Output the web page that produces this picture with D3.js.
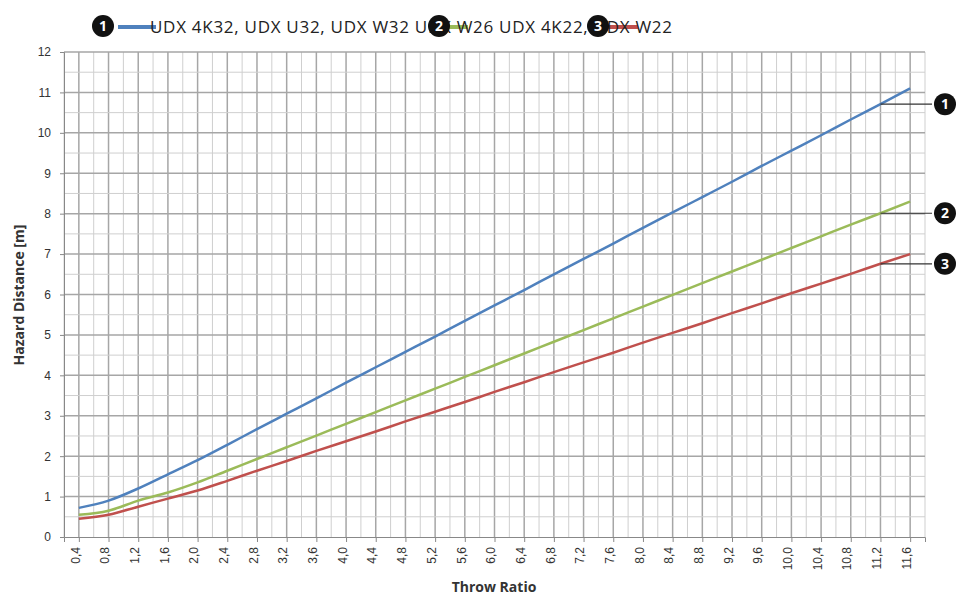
<!DOCTYPE html><html><head><meta charset="utf-8"><script src="https://cdn.jsdelivr.net/npm/d3@7"></script>
<style>body{margin:0;background:#fff;font-family:"Open Sans",sans-serif}</style></head><body><svg id="c" width="965" height="598"></svg>
<script>
const xs=[0.4,0.8,1.2,1.6,2.0,2.4,2.8,3.2,3.6,4.0,4.4,4.8,5.2,5.6,6.0,6.4,6.8,7.2,7.6,8.0,8.4,8.8,9.2,9.6,10.0,10.4,10.8,11.2,11.6];
const blue=[0.72,0.9,1.2,1.55,1.9,2.28,2.67,3.05,3.43,3.82,4.2,4.58,4.96,5.35,5.73,6.11,6.5,6.88,7.26,7.65,8.03,8.41,8.79,9.18,9.56,9.94,10.33,10.71,11.1];
const green=[0.55,0.65,0.9,1.1,1.35,1.64,1.93,2.22,2.51,2.8,3.09,3.38,3.67,3.96,4.25,4.54,4.83,5.12,5.41,5.7,5.99,6.28,6.57,6.86,7.15,7.44,7.73,8.01,8.3];
const red=[0.45,0.55,0.75,0.95,1.15,1.39,1.64,1.88,2.13,2.37,2.61,2.86,3.1,3.34,3.59,3.83,4.08,4.32,4.56,4.81,5.05,5.29,5.54,5.78,6.03,6.27,6.51,6.76,7.0];
const yTicks=[0,1,2,3,4,5,6,7,8,9,10,11,12];
const series=[{n:"1",v:blue,c:"#4f81bd"},{n:"2",v:green,c:"#9bbb59"},{n:"3",v:red,c:"#c0504d"}];
const legendText="UDX 4K32, UDX U32, UDX W32 UDX W26 UDX 4K22, UDX W22";
const svg=d3.select("#c");
const x=d3.scaleLinear().domain([0.2,11.8]).range([64,925]);
const y=d3.scaleLinear().domain([0,12]).range([537,52]);
const g=svg.append("g");
const vx=d3.range(2,119,2).map(d=>d/10);
g.selectAll(".vg").data(vx).join("line").attr("x1",d=>x(d)).attr("x2",d=>x(d)).attr("y1",y(12)).attr("y2",y(0))
 .attr("stroke",(d,i)=>i%2===1?"#a6a6a6":"#cfcfcf").attr("stroke-width",(d,i)=>i%2===1?1.5:1);
const hy=d3.range(1,25).map(d=>d/2);
g.selectAll(".hg").data(hy).join("line").attr("x1",x(0.2)).attr("x2",x(11.8)).attr("y1",d=>y(d)).attr("y2",d=>y(d))
 .attr("stroke",d=>d%1===0?"#a6a6a6":"#cfcfcf").attr("stroke-width",d=>d%1===0?1.5:1);
const ya=svg.append("g").attr("transform","translate(64,0)").call(d3.axisLeft(y).tickValues(yTicks).tickSize(4));
ya.select(".domain").attr("stroke","#888");ya.selectAll("line").attr("stroke","#888");
ya.selectAll("text").attr("font-size",12).attr("fill","#333").attr("dx",-6);
const xa=svg.append("g").attr("transform","translate(0,537)").call(d3.axisBottom(x).tickValues(xs).tickSize(5).tickFormat(d=>d3.format(".1f")(d).replace(".",",")));
xa.select(".domain").attr("stroke","#888");xa.selectAll("line").attr("stroke","#888");
xa.selectAll("text").attr("font-size",12).attr("fill","#333").attr("transform","rotate(-90)").attr("text-anchor","end").attr("x",-10).attr("y",-4).attr("dy","0.35em");
svg.append("text").attr("x",494).attr("y",592).attr("text-anchor","middle").attr("font-weight","bold").attr("font-size",14).attr("fill","#333").text("Throw Ratio");
svg.append("text").attr("transform","translate(24,295) rotate(-90)").attr("text-anchor","middle").attr("font-weight","bold").attr("font-size",14).attr("fill","#333").text("Hazard Distance [m]");
const line=d3.line().x((d,i)=>x(xs[i])).y(d=>y(d)).curve(d3.curveMonotoneX);
series.forEach(s=>{
 svg.append("path").datum(s.v).attr("d",line).attr("fill","none").attr("stroke",s.c).attr("stroke-width",2.5);
 const ly=y(s.v[27]);
 svg.append("line").attr("x1",x(11.2)).attr("x2",932).attr("y1",ly).attr("y2",ly).attr("stroke","#333").attr("stroke-width",1.2);
 svg.append("circle").attr("cx",945).attr("cy",ly).attr("r",11).attr("fill","#111");
 svg.append("text").attr("x",945).attr("y",ly+5).attr("text-anchor","middle").attr("fill","#fff").attr("font-weight","bold").attr("font-size",14).text(s.n);
});
const L=svg.append("g");
[[118,"#4f81bd"],[430,"#9bbb59"],[600,"#c0504d"]].forEach(([lx,c])=>{
 L.append("line").attr("x1",lx).attr("x2",lx+38).attr("y1",27).attr("y2",27).attr("stroke",c).attr("stroke-width",4);
});
L.append("text").attr("x",150).attr("y",33).attr("font-size",17).attr("fill","#222").attr("textLength",522).attr("lengthAdjust","spacing").text(legendText);
[[103,"1"],[439,"2"],[598,"3"]].forEach(([cx,n])=>{
 L.append("circle").attr("cx",cx).attr("cy",26).attr("r",11).attr("fill","#111");
 L.append("text").attr("x",cx).attr("y",31).attr("text-anchor","middle").attr("fill","#fff").attr("font-weight","bold").attr("font-size",14).text(n);
});
</script></body></html>
